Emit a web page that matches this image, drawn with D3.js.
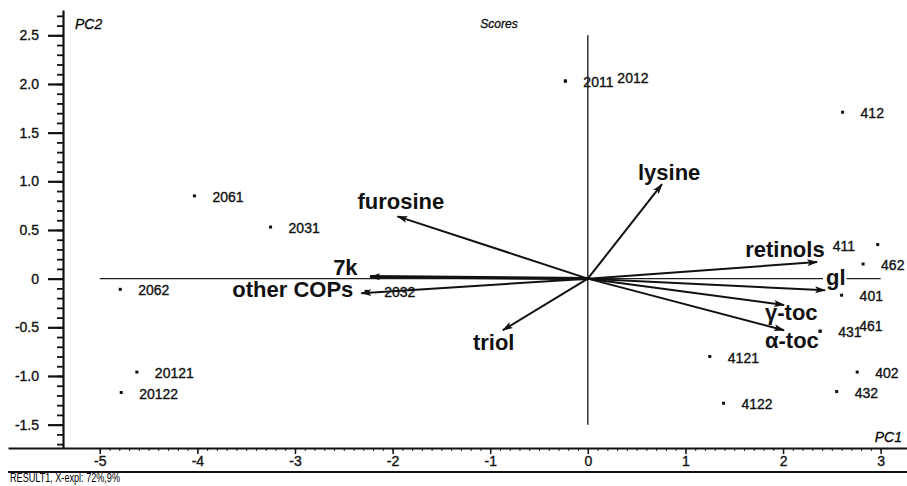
<!DOCTYPE html>
<html>
<head>
<meta charset="utf-8">
<script src="https://cdn.jsdelivr.net/npm/d3@7"></script>
<style>
  body { margin: 0; background: #fff; }
  svg { display: block; font-family: "Liberation Sans", Arial, sans-serif; }
  .axis text { font-size: 14px; fill: #111; stroke: #111; stroke-width: 0.35px; }
</style>
</head>
<body>
<svg id="chart" width="907" height="486"></svg>
<script>
// scores (samples)
var scoreNames = ["2011", "2012", "412", "2061", "2031", "2062", "2032", "20121", "20122",
                  "4121", "4122", "402", "432", "411", "462", "401", "431", "461"];
var scorePC1 = [-0.23, -0.23, 2.61, -4.03, -3.25, -4.79, -2.27, -4.62, -4.78,
                1.25, 1.39, 2.76, 2.55, 2.97, 2.82, 2.60, 2.38, 2.38];
var scorePC2 = [2.03, 2.03, 1.71, 0.85, 0.53, -0.11, -0.13, -0.96, -1.17,
                -0.80, -1.28, -0.96, -1.16, 0.35, 0.15, -0.17, -0.54, -0.54];

// loadings (variables)
var loadNames = ["lysine", "furosine", "7k", "other COPs", "triol", "retinols", "gl", "γ-toc", "α-toc"];
var loadPC1 = [0.76, -1.95, -2.23, -2.32, -0.87, 2.35, 2.43, 2.01, 2.01];
var loadPC2 = [0.97, 0.64, 0.02, -0.15, -0.53, 0.17, -0.12, -0.27, -0.53];

// axis ticks
var xTicks = [-5, -4, -3, -2, -1, 0, 1, 2, 3];
var xTickLabels = ["-5", "-4", "-3", "-2", "-1", "0", "1", "2", "3"];
var yTicks = [-1.5, -1, -0.5, 0, 0.5, 1, 1.5, 2, 2.5];
var yTickLabels = ["-1.5", "-1.0", "-0.5", "0", "0.5", "1.0", "1.5", "2.0", "2.5"];

// label nudges (pixels), where the software moved labels apart
var scoreNudge = { "2012": [52, 2], "411": [-45, 6], "461": [39, 0] };
var loadNudge = {
  "lysine": [-24, -4, "start"], "furosine": [-40, -7, "start"], "7k": [-37, -2, "start"],
  "other COPs": [-8, 4, "end"], "triol": [-30, 20, "start"], "retinols": [-72, -5, "start"],
  "gl": [1, -5, "start"], "γ-toc": [-19, 15, "start"], "α-toc": [-19, 18, "start"]
};

var svg = d3.select("#chart");

var x = d3.scaleLinear().domain([-5.94, 3.27]).range([8, 907]);
var y = d3.scaleLinear().domain([-1.74, 2.76]).range([448, 10]);

var x0 = x(0), y0 = y(0);

// minor ticks every 0.1
var xMinor = d3.range(-50, 31).map(function(d) { return d / 10; });
var yMinor = d3.range(-17, 28).map(function(d) { return d / 10; });

var axY = y.range()[0];
var axX = 63; // y axis sits at left edge of plot

// x axis
svg.append("g")
  .attr("transform", "translate(0," + axY + ")")
  .call(d3.axisBottom(x).tickValues(xMinor).tickSize(3).tickFormat("").tickSizeOuter(0))
  .call(function(g) { g.select(".domain").remove(); })
  .selectAll("line").attr("stroke", "#222").attr("stroke-width", 1);

svg.append("g")
  .attr("class", "axis")
  .attr("transform", "translate(0," + axY + ")")
  .call(d3.axisBottom(x).tickValues(xTicks).tickSize(6).tickPadding(2).tickSizeOuter(0)
    .tickFormat(function(d, i) { return xTickLabels[i]; }))
  .call(function(g) {
    g.select(".domain").attr("stroke", "#111").attr("stroke-width", 2);
    g.selectAll("line").attr("stroke", "#111").attr("stroke-width", 1.5);
    g.selectAll("text").attr("dy", "0.72em");
  });

// y axis
svg.append("g")
  .attr("transform", "translate(" + axX + ",0)")
  .call(d3.axisLeft(y).tickValues(yMinor).tickSize(6).tickFormat("").tickSizeOuter(0))
  .call(function(g) { g.select(".domain").remove(); })
  .selectAll("line").attr("stroke", "#111").attr("stroke-width", 1.8);

svg.append("g")
  .attr("class", "axis")
  .attr("transform", "translate(" + axX + ",0)")
  .call(d3.axisLeft(y).tickValues(yTicks).tickSize(15).tickPadding(9).tickSizeOuter(0)
    .tickFormat(function(d, i) { return yTickLabels[i]; }))
  .call(function(g) {
    g.select(".domain").attr("stroke", "#111").attr("stroke-width", 2.2);
    g.selectAll("line").attr("stroke", "#111").attr("stroke-width", 2.2);
  });

// bottom rule
svg.append("line")
  .attr("x1", 8).attr("x2", 907).attr("y1", axY + 24).attr("y2", axY + 24)
  .attr("stroke", "#111").attr("stroke-width", 2);

// origin lines
svg.append("line")
  .attr("x1", x(-5)).attr("x2", x(3)).attr("y1", y0).attr("y2", y0)
  .attr("stroke", "#222").attr("stroke-width", 1.4);
svg.append("line")
  .attr("x1", x0).attr("x2", x0).attr("y1", y(2.5)).attr("y2", y(-1.5))
  .attr("stroke", "#222").attr("stroke-width", 1.4);

// titles
svg.append("text").attr("x", 75).attr("y", 29).attr("font-size", 14).attr("font-style", "italic")
  .attr("stroke", "#111").attr("stroke-width", 0.3).text("PC2");
svg.append("text").attr("x", 499).attr("y", 28).attr("font-size", 12).attr("font-style", "italic")
  .attr("text-anchor", "middle").attr("stroke", "#111").attr("stroke-width", 0.3).text("Scores");
svg.append("text").attr("x", 902).attr("y", 442).attr("font-size", 14).attr("font-style", "italic")
  .attr("text-anchor", "end").attr("stroke", "#111").attr("stroke-width", 0.3).text("PC1");
svg.append("text").attr("x", 10).attr("y", 482).attr("font-size", 12)
  .attr("textLength", 110).attr("lengthAdjust", "spacingAndGlyphs").text("RESULT1, X-expl: 72%,9%");

// loadings labels (white boxes cut the origin line like the original)
var loads = loadNames.map(function(n, i) { return { name: n, pc1: loadPC1[i], pc2: loadPC2[i] }; });

var lg = svg.append("g");
var labels = lg.selectAll("g")
  .data(loads)
  .enter()
  .append("g");

labels.append("text")
  .attr("x", function(d) { return x(d.pc1) + loadNudge[d.name][0]; })
  .attr("y", function(d) { return y(d.pc2) + loadNudge[d.name][1]; })
  .attr("text-anchor", function(d) { return loadNudge[d.name][2]; })
  .attr("font-size", 22)
  .attr("font-weight", "bold")
  .attr("fill", "#111")
  .text(function(d) { return d.name; });

labels.each(function() {
  var t = d3.select(this).select("text");
  var b = t.node().getBBox();
  d3.select(this).insert("rect", "text")
    .attr("x", b.x - 3).attr("y", b.y + 3)
    .attr("width", b.width + 4).attr("height", b.height - 5)
    .attr("fill", "#fff");
});

// score points
var scores = scoreNames.map(function(n, i) { return { name: n, pc1: scorePC1[i], pc2: scorePC2[i] }; });

var sg = svg.append("g");
sg.selectAll("rect")
  .data(scores)
  .enter()
  .append("rect")
  .attr("x", function(d) { return x(d.pc1) - 1.5; })
  .attr("y", function(d) { return y(d.pc2) - 1.5; })
  .attr("width", 3)
  .attr("height", 3)
  .attr("fill", "#111");

sg.selectAll("text")
  .data(scores)
  .enter()
  .append("text")
  .attr("x", function(d) { var n = scoreNudge[d.name]; return x(d.pc1) + (n ? n[0] : 18); })
  .attr("y", function(d) { var n = scoreNudge[d.name]; return y(d.pc2) + (n ? n[1] : 6); })
  .attr("font-size", 14)
  .attr("fill", "#111")
  .attr("stroke", "#111")
  .attr("stroke-width", 0.35)
  .text(function(d) { return d.name; });

// loading arrows
svg.append("defs").append("marker")
  .attr("id", "head")
  .attr("markerUnits", "userSpaceOnUse")
  .attr("viewBox", "0 0 11 8")
  .attr("refX", 10).attr("refY", 4)
  .attr("markerWidth", 11).attr("markerHeight", 8)
  .attr("orient", "auto")
  .append("path")
  .attr("d", "M0,0.5 L11,4 L0,7.5 L2.5,4 Z")
  .attr("fill", "#111");

svg.append("g").selectAll("line")
  .data(loads)
  .enter()
  .append("line")
  .attr("x1", x0).attr("y1", y0)
  .attr("x2", function(d) { return x(d.pc1); })
  .attr("y2", function(d) { return y(d.pc2); })
  .attr("stroke", "#111")
  .attr("stroke-width", function(d) { return d.name === "7k" ? 3.2 : 2; })
  .attr("marker-end", "url(#head)");
</script>
</body>
</html>
